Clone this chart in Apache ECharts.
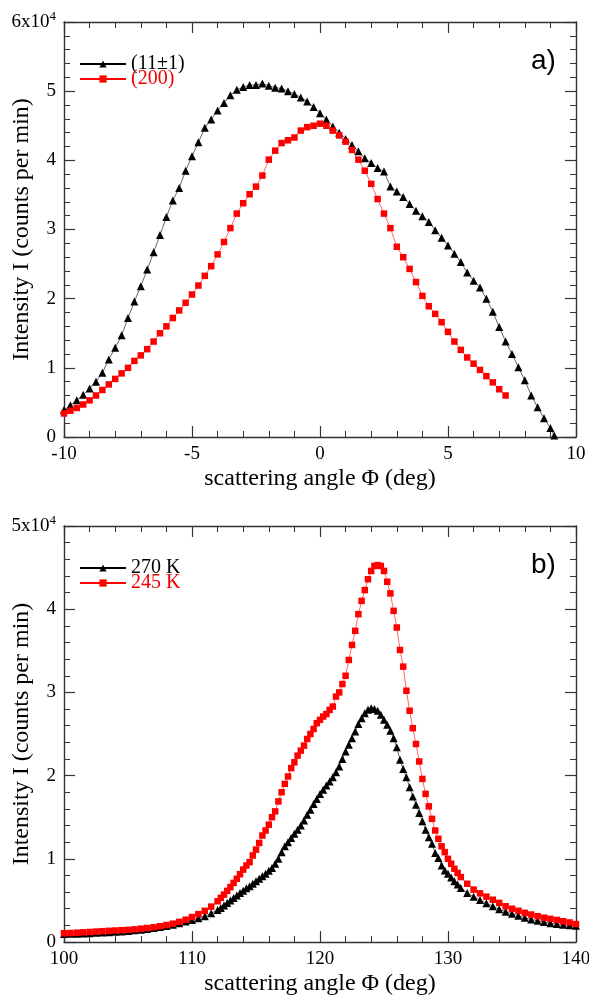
<!DOCTYPE html>
<html>
<head>
<meta charset="utf-8">
<script src="https://cdn.jsdelivr.net/npm/echarts@6/dist/echarts.min.js"></script>
<style>html,body{margin:0;padding:0;background:#fff;}#chart{width:589px;height:996px;}</style>
</head>
<body>
<div id="chart"></div>
<script>
// ---------- Panel a) ----------
var aX11 = [-10,-9.75,-9.5,-9.25,-9,-8.75,-8.5,-8.25,-8,-7.75,-7.5,-7.25,-7,-6.75,-6.5,-6.25,-6,-5.75,-5.5,-5.25,-5,-4.75,-4.5,-4.25,-4,-3.75,-3.5,-3.25,-3,-2.75,-2.5,-2.25,-2,-1.75,-1.5,-1.25,-1,-0.75,-0.5,-0.25,0,0.25,0.5,0.75,1,1.25,1.5,1.75,2,2.25,2.5,2.75,3,3.25,3.5,3.75,4,4.25,4.5,4.75,5,5.25,5.5,5.75,6,6.25,6.5,6.75,7,7.25,7.5,7.75,8,8.25,8.5,8.75,9,9.15];
var aY11 = [3900,4600,5300,6100,7000,8000,9300,11200,12900,14700,17200,19600,21800,24200,26700,29200,31800,34200,36000,38500,40600,42600,44700,45900,47200,48300,49400,50200,50600,50900,50900,51100,50800,50500,50400,50000,49600,49100,48500,47700,46800,45900,44900,44000,43100,42200,41300,40300,39600,38900,38400,36200,35500,34700,33700,32700,31900,31100,29900,28800,27700,26500,25300,23800,22600,21600,20000,18100,15900,13800,12000,10100,8200,6000,4300,2700,1300,200];
var aX200 = [-10,-9.75,-9.5,-9.25,-9,-8.75,-8.5,-8.25,-8,-7.75,-7.5,-7.25,-7,-6.75,-6.5,-6.25,-6,-5.75,-5.5,-5.25,-5,-4.75,-4.5,-4.25,-4,-3.75,-3.5,-3.25,-3,-2.75,-2.5,-2.25,-2,-1.75,-1.5,-1.25,-1,-0.75,-0.5,-0.25,0,0.25,0.5,0.75,1,1.25,1.5,1.75,2,2.25,2.5,2.75,3,3.25,3.5,3.75,4,4.25,4.5,4.75,5,5.25,5.5,5.75,6,6.25,6.5,6.75,7,7.25];
var aY200 = [3400,3800,4200,4700,5300,6000,6800,7600,8400,9200,10000,11000,11800,12700,13800,15000,16000,17200,18300,19400,20600,21900,23300,24700,26400,28200,30200,32300,33800,35100,36200,37800,40100,41400,42500,42900,43300,44300,44800,45000,45300,45000,44300,43600,42700,41500,40100,38500,36600,34400,32300,30200,27500,26000,24300,22400,20400,18900,17800,16600,15200,13800,12600,11500,10600,9700,8800,7900,6900,6000];

// ---------- Panel b) ----------
var bX = [100,100.5,101,101.5,102,102.5,103,103.5,104,104.5,105,105.5,106,106.5,107,107.5,108,108.5,109,109.5,110,110.5,111,111.5,
112,112.25,112.5,112.75,113,113.25,113.5,113.75,114,114.25,114.5,114.75,115,115.25,115.5,115.75,116,116.25,116.5,116.75,117,117.25,117.5,117.75,118,118.25,118.5,118.75,119,119.25,119.5,119.75,120,120.25,120.5,120.75,121,121.25,121.5,121.75,122,122.25,122.5,122.75,123,123.25,123.5,123.75,124,124.25,124.5,124.75,125,125.25,125.5,125.75,126,126.25,126.5,126.75,127,127.25,127.5,127.75,128,128.25,128.5,128.75,129,129.25,129.5,129.75,130,130.25,130.5,130.75,131,
131.5,132,132.5,133,133.5,134,134.5,135,135.5,136,136.5,137,137.5,138,138.5,139,139.5,140];
var bY270 = [950,980,1000,1030,1060,1100,1140,1180,1220,1270,1330,1400,1480,1570,1670,1790,1930,2080,2250,2450,2650,2850,3100,3450,
3850,4100,4400,4700,5000,5300,5600,5900,6150,6450,6700,7000,7300,7600,7900,8200,8550,8900,9400,10000,10800,11500,12000,12500,13000,13500,14000,14600,15300,15900,16600,17200,17800,18300,18800,19300,19800,20400,21100,22000,22900,23700,24500,25300,26200,26900,27500,27900,28100,28000,27800,27300,26700,26100,25400,24500,23400,21900,20800,19800,18600,17500,16500,15500,14500,13500,12600,11800,10700,10100,9200,8600,8200,7750,7300,6900,6500,
5900,5450,5050,4650,4300,3950,3650,3400,3150,2900,2700,2550,2400,2250,2150,2080,2000,1950];
var bY245 = [1050,1080,1120,1160,1200,1250,1300,1340,1380,1420,1460,1520,1600,1680,1770,1900,2040,2200,2420,2680,3000,3350,3750,4250,
4900,5300,5700,6150,6600,7100,7600,8150,8700,9200,9600,10400,11100,11900,12800,13400,14100,15000,15700,16900,18000,19000,19900,20900,21600,22400,23000,23600,24400,25000,25600,26300,26700,27100,27400,27900,28300,29500,30000,31000,32000,33900,35700,37400,39400,41000,42300,43600,44600,45200,45300,45200,44600,43300,41900,39800,37800,35100,33100,30200,27800,25700,23800,21700,19600,17800,16300,14800,13400,12400,11500,10800,10000,9400,8800,8300,7800,
7000,6300,5850,5450,5080,4700,4300,4000,3750,3500,3300,3100,2920,2780,2650,2500,2350,2160];

var namesA = ['(11\u00b11)', '(200)'];
var namesB = ['270 K', '245 K'];
var xTicksA = {min: -10, max: 10, interval: 5};
var xTicksB = {min: 100, max: 140, interval: 10};
var yTicksA = {min: 0, max: 60000, interval: 10000};
var yTicksB = {min: 0, max: 50000, interval: 10000};

function pairs(xs, ys) { return xs.map(function (x, i) { return [x, ys[i]]; }); }

var SERIF = '"Liberation Serif", "DejaVu Serif", serif';
var AXC = '#333';

function xAxisDef(grid, t, bottom, name) {
  return {
    type: 'value', gridIndex: grid, position: bottom ? 'bottom' : 'top',
    min: t.min, max: t.max, interval: t.interval,
    axisLine: {show: true, onZero: false, lineStyle: {color: AXC, width: 1.4}},
    axisTick: {show: true, inside: true, length: 11, lineStyle: {color: AXC, width: 1.2}},
    minorTick: {show: true, splitNumber: 5, length: 6, lineStyle: {color: AXC, width: 1}},
    splitLine: {show: false}, minorSplitLine: {show: false},
    axisLabel: {show: bottom, color: '#000', fontFamily: SERIF, fontSize: 19, margin: 8},
    name: bottom ? name : '', nameLocation: 'middle', nameGap: 30, nameMoveOverlap: false,
    nameTextStyle: {color: '#000', fontFamily: SERIF, fontSize: 24}
  };
}
function yAxisDef(grid, t, left, top) {
  return {
    type: 'value', gridIndex: grid, position: left ? 'left' : 'right',
    min: t.min, max: t.max, interval: t.interval,
    axisLine: {show: true, onZero: false, lineStyle: {color: AXC, width: 1.4}},
    axisTick: {show: true, inside: true, length: 11, lineStyle: {color: AXC, width: 1.2}},
    minorTick: {show: true, splitNumber: 5, length: 6, lineStyle: {color: AXC, width: 1}},
    splitLine: {show: false}, minorSplitLine: {show: false},
    axisLabel: {
      show: left, color: '#000', fontFamily: SERIF, fontSize: 19, margin: 8,
      formatter: function (v) { return v === t.max ? '{m|' + top + 'x10}{s|4}' : String(v / 10000); },
      rich: {m: {fontFamily: SERIF, fontSize: 19, color: '#000'}, s: {fontFamily: SERIF, fontSize: 13, color: '#000', padding: [0, 0, 10, 0]}}
    },
    name: left ? 'Intensity I (counts per min)' : '', nameLocation: 'middle', nameGap: 30, nameMoveOverlap: false,
    nameTextStyle: {color: '#000', fontFamily: SERIF, fontSize: 24}
  };
}
function seriesDef(name, data, xi, yi, color, symbol, size) {
  return {
    type: 'line', name: name, data: data, xAxisIndex: xi, yAxisIndex: yi,
    symbol: symbol, symbolSize: size, showSymbol: true, showAllSymbol: true,
    itemStyle: {color: color}, lineStyle: {color: color, width: 0.6},
    animation: false, clip: true
  };
}
function legendDef(name, color, left, top) {
  return {
    data: [name], left: left, top: top, orient: 'vertical', padding: 0,
    itemWidth: 46, itemHeight: 9, selectedMode: false,
    textStyle: {color: color, fontFamily: SERIF, fontSize: 20}
  };
}

var chart = echarts.init(document.getElementById('chart'), null, {renderer: 'canvas'});
chart.setOption({
  backgroundColor: '#fff',
  animation: false,
  grid: [
    {left: 64, top: 22, width: 512, height: 415, containLabel: false, outerBoundsMode: 'none'},
    {left: 64, top: 526, width: 512, height: 416, containLabel: false, outerBoundsMode: 'none'}
  ],
  xAxis: [
    xAxisDef(0, xTicksA, true, 'scattering angle \u03a6 (deg)'),
    xAxisDef(0, xTicksA, false, ''),
    xAxisDef(1, xTicksB, true, 'scattering angle \u03a6 (deg)'),
    xAxisDef(1, xTicksB, false, '')
  ],
  yAxis: [
    yAxisDef(0, yTicksA, true, '6'),
    yAxisDef(0, yTicksA, false, '6'),
    yAxisDef(1, yTicksB, true, '5'),
    yAxisDef(1, yTicksB, false, '5')
  ],
  legend: [
    legendDef(namesA[0], '#000', 79, 54),
    legendDef(namesA[1], '#e00', 79, 69),
    legendDef(namesB[0], '#000', 79, 558),
    legendDef(namesB[1], '#e00', 79, 573)
  ],
  series: [
    seriesDef(namesA[0], pairs(aX11, aY11), 0, 0, '#000', 'triangle', 8),
    seriesDef(namesA[1], pairs(aX200, aY200), 0, 0, '#f00', 'rect', 6.5),
    seriesDef(namesB[0], pairs(bX, bY270), 2, 2, '#000', 'triangle', 8),
    seriesDef(namesB[1], pairs(bX, bY245), 2, 2, '#f00', 'rect', 6.5)
  ],
  graphic: [
    {type: 'text', left: 531, top: 47, style: {text: 'a)', font: '28px "Liberation Sans", Arial, sans-serif', fill: '#000'}},
    {type: 'text', left: 531, top: 551, style: {text: 'b)', font: '28px "Liberation Sans", Arial, sans-serif', fill: '#000'}}
  ]
});
</script>
</body>
</html>
